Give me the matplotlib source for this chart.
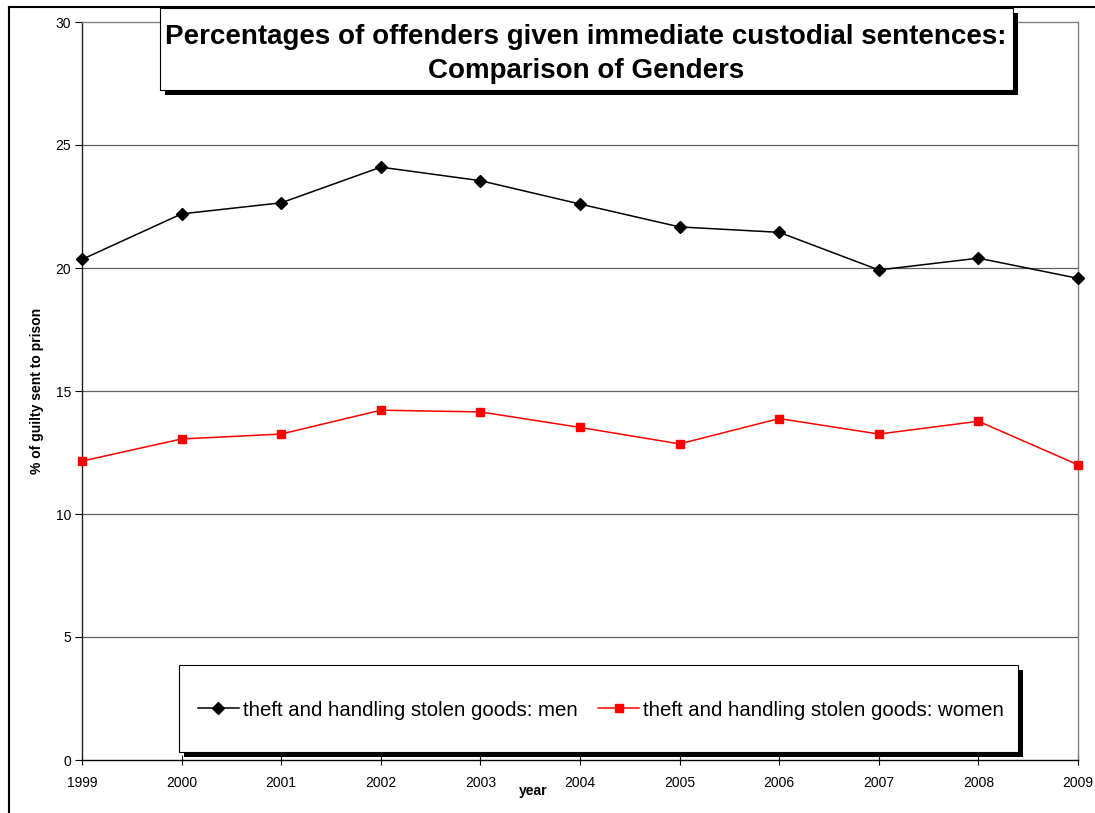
import numpy as np
import matplotlib.pyplot as plt
from matplotlib.patches import Rectangle
from matplotlib.lines import Line2D

plt.rcParams['font.family'] = ['Liberation Sans', 'DejaVu Sans']

years = [1999, 2000, 2001, 2002, 2003, 2004, 2005, 2006, 2007, 2008, 2009]
men = [20.35, 22.2, 22.65, 24.1, 23.55, 22.6, 21.67, 21.45, 19.92, 20.4, 19.58]
women = [12.15, 13.05, 13.25, 14.22, 14.15, 13.52, 12.85, 13.88, 13.25, 13.77, 12.0]
yticks = [0, 5, 10, 15, 20, 25, 30]

W, H = 1095, 813
fig = plt.figure(figsize=(W / 100, H / 100), dpi=100)
ax = fig.add_axes([82 / W, 1 - 760 / H, (1078 - 82) / W, (760 - 22) / H])

ax.plot(years, men, color='black', lw=1.1, marker='D', ms=6, mec='black',
        label='theft and handling stolen goods: men', zorder=3, clip_on=False)
ax.plot(years, women, color='#ff0000', lw=1.1, marker='s', ms=6, mec='#ff0000',
        label='theft and handling stolen goods: women', zorder=3, clip_on=False)

ax.set_xlim(1999, 2009)
ax.set_ylim(0, 30)
ax.set_xticks(years)
ax.set_yticks(yticks)
ax.tick_params(axis='y', direction='out', length=5, labelsize=10, pad=3)
ax.tick_params(axis='x', direction='inout', length=7, labelsize=10, pad=8)
for y in yticks[1:-1]:
    ax.axhline(y, color='#606060', lw=0.9, zorder=1)
ax.spines['top'].set_color('#808080')
ax.spines['right'].set_color('#808080')
ax.spines['left'].set_color('#202020')
ax.spines['bottom'].set_color('black')
for s in ax.spines.values():
    s.set_linewidth(1.0)

ax.set_ylabel('% of guilty sent to prison', fontsize=10, fontweight='bold', labelpad=8)
ax.set_xlabel('year', fontsize=10, fontweight='bold')
ax.xaxis.set_label_coords((533 - 82) / (1078 - 82), -0.033)

# outer chart frame (top and left edges)
fig.add_artist(Line2D([9 / W, 1], [1 - 7 / H, 1 - 7 / H], transform=fig.transFigure,
                      color='black', lw=1.5))
fig.add_artist(Line2D([9 / W, 9 / W], [1 - 7 / H, 0], transform=fig.transFigure,
                      color='black', lw=1.5))


def shadow_box(x0, y0, x1, y1, off=5):
    fig.add_artist(Rectangle(((x0 + off) / W, 1 - (y1 + off) / H), (x1 - x0) / W,
                             (y1 - y0) / H, transform=fig.transFigure,
                             facecolor='black', edgecolor='none', zorder=4))
    fig.add_artist(Rectangle((x0 / W, 1 - y1 / H), (x1 - x0) / W, (y1 - y0) / H,
                             transform=fig.transFigure, facecolor='white',
                             edgecolor='black', lw=0.8, zorder=5))


# title box
shadow_box(160, 8, 1013, 90)
fig.text(586 / W, 1 - 54 / H,
         'Percentages of offenders given immediate custodial sentences:\nComparison of Genders',
         ha='center', va='center', fontsize=20, fontweight='bold', linespacing=1.4, zorder=6)

# legend box
shadow_box(179, 665, 1018, 752)
leg = ax.legend(loc='center', bbox_to_anchor=(601 / W, 1 - 710 / H),
                bbox_transform=fig.transFigure, ncol=2, frameon=False,
                fontsize=14.7, handlelength=2.0, columnspacing=1.0, handletextpad=0.2)
leg.set_zorder(7)
fig.add_artist(leg)

fig.savefig('out.png', dpi=100)
